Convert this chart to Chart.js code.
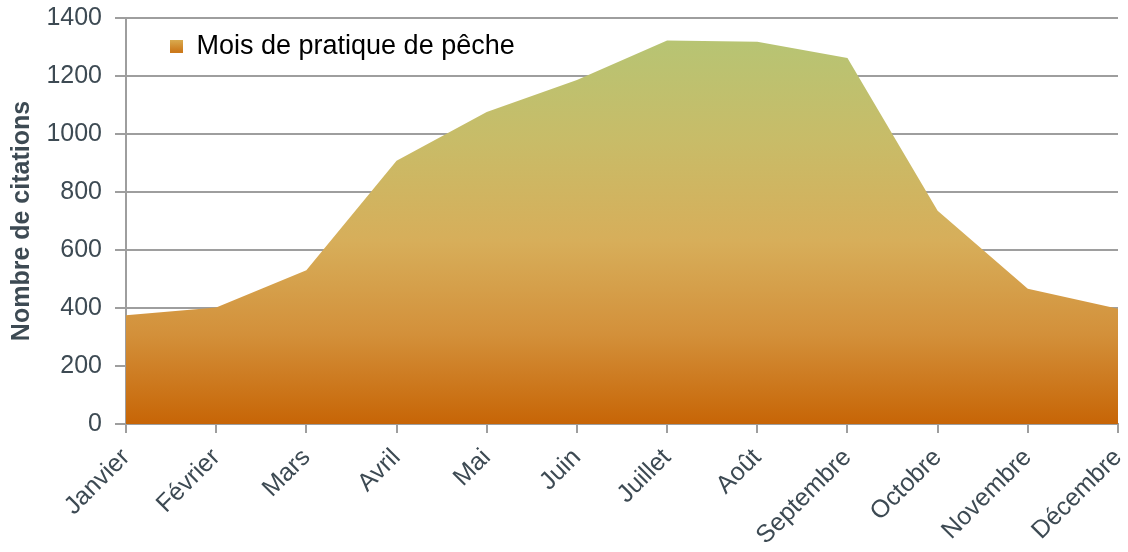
<!DOCTYPE html>
<html>
<head>
<meta charset="utf-8">
<script src="https://cdn.jsdelivr.net/npm/chart.js@4"></script>
<style>
    html, body { margin: 0; padding: 0; background: #fff; }
    #wrap { width: 1128px; height: 552px; }
</style>
</head>
<body>
<div id="wrap"><canvas id="fishChart"></canvas></div>
<script>
// Months and number of citations
const months = ['Janvier', 'Février', 'Mars', 'Avril', 'Mai', 'Juin', 'Juillet', 'Août', 'Septembre', 'Octobre', 'Novembre', 'Décembre'];
const citations = [375, 402, 530, 908, 1076, 1186, 1322, 1318, 1262, 735, 466, 397];
const seriesLabel = 'Mois de pratique de pêche';
const axisTitle = 'Nombre de citations';

const textColor = '#3d4a53';
const gridColor = '#9e9e9e';
const fontFamily = 'Liberation Sans, Arial, sans-serif';

/**
 * Vertical gradient: green at the top, dark orange at the base
 */
function areaGradient(chart) {
    if (!chart.chartArea) return '#d4a04a';
    const y = chart.scales.y;
    const g = chart.ctx.createLinearGradient(0, y.getPixelForValue(1400), 0, y.getPixelForValue(0));
    g.addColorStop(0, '#b3c676');
    g.addColorStop(0.3, '#c8bc68');
    g.addColorStop(0.55, '#d7ae5a');
    g.addColorStop(0.78, '#d3903a');
    g.addColorStop(1, '#c76506');
    return g;
}

/**
 * Small swatch gradient for the legend box
 */
function swatchGradient(chart) {
    const g = chart.ctx.createLinearGradient(0, 38, 0, 51);
    g.addColorStop(0, '#dbb358');
    g.addColorStop(1, '#cc7a1c');
    return g;
}

// legend sits inside the plot; nudge it a bit further right than its padding allows
const legendNudge = {
    id: 'legendNudge',
    afterLayout(chart) {
        if (chart.legend) chart.legend.left += 11;
    }
};

new Chart(document.getElementById('fishChart').getContext('2d'), {
    type: 'line',
    data: {
        labels: months,
        datasets: [{
            label: seriesLabel,
            data: citations,
            fill: 'origin',
            borderWidth: 0,
            pointRadius: 0,
            tension: 0,
            backgroundColor: ctx => areaGradient(ctx.chart)
        }]
    },
    plugins: [legendNudge],
    options: {
        responsive: true,
        maintainAspectRatio: false,
        animation: false,
        layout: { padding: { left: 4, right: 10, top: 18, bottom: 0 } },
        plugins: {
            legend: {
                position: 'chartArea',
                align: 'start',
                labels: {
                    color: '#4d565b',
                    font: { family: fontFamily, size: 27 },
                    boxWidth: 13,
                    boxHeight: 13,
                    padding: 33,
                    generateLabels: chart => [{
                        text: seriesLabel,
                        fillStyle: swatchGradient(chart),
                        strokeStyle: 'rgba(0,0,0,0)',
                        lineWidth: 0,
                        datasetIndex: 0
                    }]
                }
            },
            tooltip: { enabled: false }
        },
        scales: {
            x: {
                offset: false,
                // keep the rotated month names from widening the margins
                afterFit: scale => {
                    scale.paddingLeft = 0;
                    scale.paddingRight = 0;
                    scale.height = 128;
                },
                grid: {
                    drawOnChartArea: false,
                    drawTicks: true,
                    tickLength: 9,
                    color: gridColor,
                    lineWidth: 2
                },
                border: { color: gridColor, width: 2 },
                ticks: {
                    color: textColor,
                    font: { family: fontFamily, size: 25 },
                    minRotation: 45,
                    maxRotation: 45,
                    autoSkip: false,
                    padding: 10
                }
            },
            y: {
                min: 0,
                max: 1400,
                afterFit: scale => {
                    scale.width = 122;
                    scale.paddingTop = 0;
                    scale.paddingBottom = 0;
                },
                grid: {
                    color: gridColor,
                    lineWidth: 2,
                    tickLength: 11
                },
                border: { color: gridColor, width: 2 },
                ticks: {
                    stepSize: 200,
                    color: textColor,
                    font: { family: fontFamily, size: 25 },
                    padding: 13,
                    callback: value => String(value)
                },
                title: {
                    display: true,
                    text: axisTitle,
                    color: textColor,
                    font: { family: fontFamily, size: 25, weight: 'bold', lineHeight: 1 },
                    padding: { top: 6, bottom: 4 }
                }
            }
        }
    }
});
</script>
</body>
</html>
